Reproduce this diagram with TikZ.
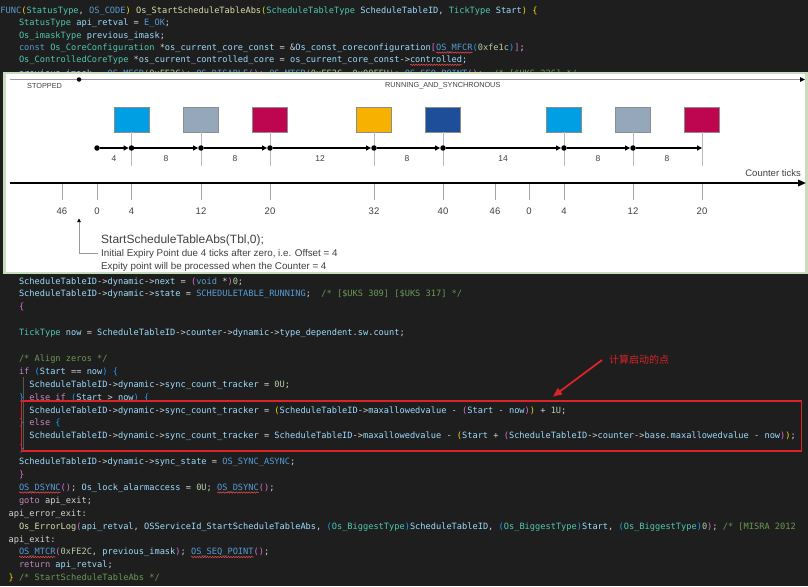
\documentclass[tikz,border=0pt]{standalone}
\usepackage{fontspec}
\setmainfont{Liberation Sans}
\newfontfamily\codefont{DejaVu Sans Mono}
\newfontfamily\cjkfont{Noto Sans CJK SC}
\usetikzlibrary{arrows.meta,decorations.pathmorphing}
\definecolor{bgc}{HTML}{1E1E1E}
\definecolor{ctype}{HTML}{4EC9B0}
\definecolor{cvar}{HTML}{9CDCFE}
\definecolor{cfun}{HTML}{DCDCAA}
\definecolor{cmac}{HTML}{569CD6}
\definecolor{cnum}{HTML}{B5CEA8}
\definecolor{ccom}{HTML}{6A9955}
\definecolor{ckey}{HTML}{C586C0}
\definecolor{cop}{HTML}{D4D4D4}
\definecolor{bra}{HTML}{FFD700}
\definecolor{brb}{HTML}{DA70D6}
\definecolor{brc}{HTML}{179FFF}
\definecolor{sqred}{HTML}{F14C4C}
\definecolor{frame}{RGB}{200,220,190}
\definecolor{bcyan}{RGB}{0,159,227}
\definecolor{bgrey}{RGB}{148,167,187}
\definecolor{bcrim}{RGB}{190,5,80}
\definecolor{boran}{RGB}{247,177,0}
\definecolor{bdblue}{RGB}{31,78,153}
\definecolor{redmark}{RGB}{220,35,40}
\newcommand\ZTy[1]{\textcolor{ctype}{#1}}
\newcommand\ZVa[1]{\textcolor{cvar}{#1}}
\newcommand\ZFn[1]{\textcolor{cfun}{#1}}
\newcommand\ZMc[1]{\textcolor{cmac}{#1}}
\newcommand\ZNm[1]{\textcolor{cnum}{#1}}
\newcommand\ZCm[1]{\textcolor{ccom}{#1}}
\newcommand\ZKw[1]{\textcolor{ckey}{#1}}
\newcommand\ZBa[1]{\textcolor{bra}{#1}}
\newcommand\ZBb[1]{\textcolor{brb}{#1}}
\newcommand\ZBc[1]{\textcolor{brc}{#1}}
\newcommand\ZSTI{\ZVa{ScheduleTableID}->\ZVa{dynamic}->}
\tikzset{
  code/.style={anchor=base west, inner sep=0pt, outer sep=0pt, text=cop, font=\codefont\fontsize{8.66}{10}\selectfont},
  sq/.style={draw=sqred, line width=0.5pt, decorate, decoration={snake, amplitude=0.7pt, segment length=2.6pt}},
  cbox/.style={draw=black!45, line width=0.4pt, minimum width=35pt, minimum height=25pt, inner sep=0pt},
  dotn/.style={circle, fill=black, inner sep=0pt, minimum size=5.5pt},
  seg/.style={line width=1.2pt, -{Triangle[length=5pt,width=5pt]}},
  vl/.style={draw=black!28, line width=0.8pt},
  tickln/.style={draw=black!35, line width=0.8pt},
  seglab/.style={font=\fontsize{8.5}{10}\selectfont, text=black!75, inner sep=0pt},
  ticklab/.style={font=\fontsize{9.5}{11}\selectfont, text=black!75, inner sep=0pt},
  statelab/.style={font=\fontsize{7.3}{9}\selectfont, text=black!75, inner sep=0pt, anchor=west},
  note/.style={font=\fontsize{9.8}{11}\selectfont, text=black!75, inner sep=0pt, anchor=west},
}
\begin{document}
\begin{tikzpicture}[x=1pt,y=-1pt]
\useasboundingbox (0,0) rectangle (808,586);
\fill[bgc] (0,0) rectangle (808,586);
% ---------- top code ----------
\node[code] (t1) at (0.5,13.5) {\ZMc{FUNC}\ZBa{(}\ZTy{StatusType}, \ZMc{OS\_CODE}\ZBa{)} \ZFn{Os\_StartScheduleTableAbs}\ZBa{(}\ZTy{ScheduleTableType} \ZVa{ScheduleTableID}, \ZTy{TickType} \ZVa{Start}\ZBa{)} \ZBa{\{}};
\node[code] (t2) at (19,26) {\ZTy{StatusType} \ZVa{api\_retval} = \ZMc{E\_OK};};
\node[code] (t3) at (19,38.3) {\ZTy{Os\_imaskType} \ZVa{previous\_imask};};
\node[code] (t4) at (19,50.5) {\ZMc{const} \ZTy{Os\_CoreConfiguration} *\ZVa{os\_current\_core\_const} = \&\ZVa{Os\_const\_coreconfiguration}\ZBb{[}\ZMc{OS\_MFCR}\ZBc{(}\ZNm{0xfe1c}\ZBc{)}\ZBb{]};};
\node[code] (t5) at (19,62.7) {\ZTy{Os\_ControlledCoreType} *\ZVa{os\_current\_controlled\_core} = \ZVa{os\_current\_core\_const}->\ZVa{controlled};};
\node[code] (t6) at (19,76.5) {\ZVa{previous\_imask} = \ZMc{OS\_MFCR}\ZBb{(}\ZNm{0xFE2C}\ZBb{)}; \ZMc{OS\_DISABLE}\ZBb{()}; \ZMc{OS\_MTCR}\ZBb{(}\ZNm{0xFE2C}, \ZNm{0x00FFU}\ZBb{)}; \ZMc{OS\_SEQ\_POINT}\ZBb{()};\ \ \ZCm{/* [\$UKS 226] */}};
\draw[sq] (436.2,52.6) -- (472.7,52.6);
\draw[sq] (410.1,64.8) -- (462.3,64.8);
% ---------- bottom code ----------
\draw[draw=white!25!bgc, line width=0.6pt] (23.5,377) -- (23.5,452);
\node[code] (b1) at (19,284) {\ZSTI\ZVa{next} = \ZBb{(}\ZMc{void} *\ZBb{)}\ZNm{0};};
\node[code] (b2) at (19,296.9) {\ZSTI\ZVa{state} = \ZMc{SCHEDULETABLE\_RUNNING};\ \ \ZCm{/* [\$UKS 309] [\$UKS 317] */}};
\node[code] (b3) at (19,309.8) {\ZBb{\{}};
\node[code] (b5) at (19,335.6) {\ZTy{TickType} \ZVa{now} = \ZVa{ScheduleTableID}->\ZVa{counter}->\ZVa{dynamic}->\ZVa{type\_dependent}.\ZVa{sw}.\ZVa{count};};
\node[code] (b7) at (19,361.4) {\ZCm{/* Align zeros */}};
\node[code] (b8) at (19,374.3) {\ZKw{if} \ZBc{(}\ZVa{Start} == \ZVa{now}\ZBc{)} \ZBc{\{}};
\node[code] (b9) at (29.4,387.2) {\ZSTI\ZVa{sync\_count\_tracker} = \ZNm{0U};};
\node[code] (b10) at (19,400.1) {\ZBc{\}} \ZKw{else} \ZKw{if} \ZBc{(}\ZVa{Start} > \ZVa{now}\ZBc{)} \ZBc{\{}};
\node[code] (b11) at (29.4,413) {\ZSTI\ZVa{sync\_count\_tracker} = \ZBa{(}\ZVa{ScheduleTableID}->\ZVa{maxallowedvalue} - \ZBb{(}\ZVa{Start} - \ZVa{now}\ZBb{)}\ZBa{)} + \ZNm{1U};};
\node[code] (b12) at (19,425.9) {\ZBc{\}} \ZKw{else} \ZBc{\{}};
\node[code] (b13) at (29.4,438.8) {\ZSTI\ZVa{sync\_count\_tracker} = \ZVa{ScheduleTableID}->\ZVa{maxallowedvalue} - \ZBa{(}\ZVa{Start} + \ZBb{(}\ZVa{ScheduleTableID}->\ZVa{counter}->\ZVa{base}.\ZVa{maxallowedvalue} - \ZVa{now}\ZBb{)}\ZBa{)};};
\node[code] (b14) at (19,451.7) {\ZBc{\}}};
\node[code] (b15) at (19,464.6) {\ZSTI\ZVa{sync\_state} = \ZMc{OS\_SYNC\_ASYNC};};
\node[code] (b16) at (19,477.5) {\ZBb{\}}};
\node[code] (b17) at (19,490.4) {\ZMc{OS\_DSYNC}\ZBb{()}; \ZVa{Os\_lock\_alarmaccess} = \ZNm{0U}; \ZMc{OS\_DSYNC}\ZBb{()};};
\node[code] (b18) at (19,503.3) {\ZKw{goto} api\_exit;};
\node[code] (b19) at (8.6,516.2) {api\_error\_exit:};
\node[code] (b20) at (19,529.1) {\ZFn{Os\_ErrorLog}\ZBb{(}\ZVa{api\_retval}, \ZVa{OSServiceId\_StartScheduleTableAbs}, \ZBc{(}\ZTy{Os\_BiggestType}\ZBc{)}\ZVa{ScheduleTableID}, \ZBc{(}\ZTy{Os\_BiggestType}\ZBc{)}\ZVa{Start}, \ZBc{(}\ZTy{Os\_BiggestType}\ZBc{)}\ZNm{0}\ZBb{)}; \ZCm{/* [MISRA 2012 }};
\node[code] (b21) at (8.6,542) {api\_exit:};
\node[code] (b22) at (19,554.9) {\ZMc{OS\_MTCR}\ZBb{(}\ZNm{0xFE2C}, \ZVa{previous\_imask}\ZBb{)}; \ZMc{OS\_SEQ\_POINT}\ZBb{()};};
\node[code] (b23) at (19,567.8) {\ZKw{return} \ZVa{api\_retval};};
\node[code] (b24) at (8.6,580.7) {\ZBa{\}} \ZCm{/* StartScheduleTableAbs */}};
\draw[sq] (19,492.5) -- (60.7,492.5);
\draw[sq] (217.2,492.5) -- (258.9,492.5);
\draw[sq] (19,557) -- (55.5,557);
\draw[sq] (191.1,557) -- (253.7,557);
% red annotation
\draw[redmark, line width=1.2pt] (21.7,401) rectangle (801.5,451);
\node[anchor=base west, inner sep=0pt, text=redmark, font=\cjkfont\fontsize{10}{12}\selectfont] (lbl) at (609,363) {计算启动的点};
\coordinate (arrs) at (602,360);
\coordinate (arre) at (553,396.5);
\draw[redmark, line width=1.8pt, -{Triangle[length=9pt,width=7.5pt]}] (arrs) -- (arre);
% ---------- diagram ----------
\fill[white] (4.5,73) rectangle (806.5,273);
\draw[frame, line width=2.5pt] (4.5,73) rectangle (806.5,273);
\coordinate (st0) at (10,79.5);
\coordinate (st1) at (805,79.5);
\draw[black!40, line width=0.8pt, -{Triangle[length=5pt,width=4.5pt,color=black]}] (st0) -- (st1);
\node[dotn, minimum size=4.5pt] (sd) at (79,79.5) {};
\node[statelab] (stp) at (27,86) {STOPPED};
\node[statelab] (run) at (385,86) {RUNNING\_AND\_SYNCHRONOUS};
% boxes
\foreach \n/\x/\c in {1/131.5/bcyan, 2/201/bgrey, 3/270/bcrim, 4/374/boran, 5/443/bdblue, 6/564/bcyan, 7/633/bgrey, 8/702/bcrim}{
  \node[cbox, fill=\c] (bx\n) at (\x,119.5) {};
  \draw[vl] (bx\n.south) -- ++(0,34);
}
% timeline dots
\node[dotn] (p0) at (97,148) {};
\foreach \n/\x in {1/131.5, 2/201, 3/270, 4/374, 5/443, 6/564, 7/633}{
  \node[dotn] (e\n) at (\x,148) {};
}
\coordinate (e8) at (702,148);
\draw[seg] (p0) -- (e1);
\draw[seg] (e1) -- (e2);
\draw[seg] (e2) -- (e3);
\draw[seg] (e3) -- (e4);
\draw[seg] (e4) -- (e5);
\draw[seg] (e5) -- (e6);
\draw[seg] (e6) -- (e7);
\draw[seg] (e7) -- (e8);
\foreach \n/\x/\t in {1/114/4, 2/166/8, 3/235/8, 4/320/12, 5/407/8, 6/503/14, 7/598/8, 8/667/8}{
  \node[seglab] (sl\n) at (\x,159) {\t};
}
% counter axis
\coordinate (ax0) at (10,183);
\coordinate (ax1) at (806,183);
\draw[line width=1.8pt, -{Triangle[length=8pt,width=6.5pt]}] (ax0) -- (ax1);
\node[ticklab, anchor=east] (ct) at (801,173) {Counter ticks};
\foreach \n/\x/\t in {1/62/46, 2/97/0, 3/131.5/4, 4/201/12, 5/270/20, 6/374/32, 7/443/40, 8/495/46, 9/529/0, 10/564/4, 11/633/12, 12/702/20}{
  \coordinate (tk\n) at (\x,184);
  \draw[tickln] (tk\n) -- ++(0,16);
  \node[ticklab] (tl\n) at (\x,211) {\t};
}
% start annotation
\coordinate (an0) at (79,253);
\coordinate (an1) at (79,218.5);
\coordinate (an2) at (98,253);
\draw[black!40, line width=0.7pt, -{Triangle[length=3.5pt,width=3.5pt,color=black]}] (an2) -- (an0) -- (an1);
\node[note, font=\fontsize{12}{14}\selectfont] (n1) at (101,240.5) {StartScheduleTableAbs(Tbl,0);};
\node[note] (n2) at (101,254) {Initial Expiry Point due 4 ticks after zero, i.e. Offset = 4};
\node[note] (n3) at (101,267) {Expity point will be processed when the Counter = 4};
\end{tikzpicture}
\end{document}
